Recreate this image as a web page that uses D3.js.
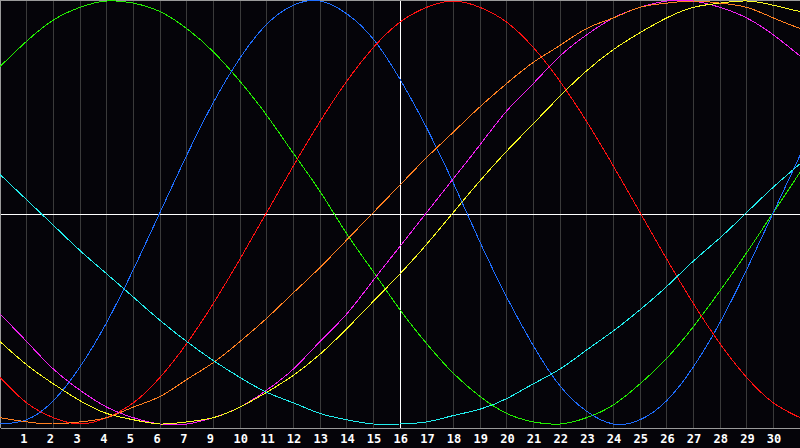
<!DOCTYPE html>
<html>
<head>
<meta charset="utf-8">
<script src="https://cdn.jsdelivr.net/npm/d3@7"></script>
<style>
  html, body { margin: 0; padding: 0; background: #050409; overflow: hidden; }
  svg { display: block; }
</style>
</head>
<body>
<svg id="chart" width="800" height="448"></svg>
<script>
// Day index along the x axis (0 = left edge, 30 = right edge)
const days = [0,1,2,3,4,5,6,7,8,9,10,11,12,13,14,15,16,17,18,19,20,21,22,23,24,25,26,27,28,29,30];

// Tick labels under grid lines 1..29 (the original skips "8")
const tickLabels = ["1","2","3","4","5","6","7","9","10","11","12","13","14","15","16","17","18","19","20","21","22","23","24","25","26","27","28","29","30"];

// Series values (percent), one per day
const physical     = [-100,-98,-89,-73,-52,-27,0,27,52,73,89,98,100,94,82,63,40,14,-14,-40,-63,-82,-94,-100,-98,-89,-73,-52,-27,0,27];
const emotional    = [-78,-90,-97,-100,-97,-90,-78,-62,-43,-22,0,22,43,62,78,90,97,100,97,90,78,62,43,22,0,-22,-43,-62,-78,-90,-97];
const intellectual = [69,81,91,97,100,99,95,87,76,62,46,28,10,-10,-28,-46,-62,-76,-87,-95,-99,-100,-97,-91,-81,-69,-54,-37,-19,0,19];
const intuitive    = [-48,-61,-74,-84,-92,-97,-100,-100,-97,-92,-84,-74,-61,-48,-32,-16,0,16,32,48,61,74,84,92,97,100,100,97,92,84,74];
const aesthetic    = [-61,-72,-81,-89,-95,-98,-100,-99,-97,-92,-85,-77,-67,-55,-42,-29,-15,0,15,29,42,55,67,77,85,92,97,99,100,98,95];
const awareness    = [-97,-99,-100,-99,-97,-92,-87,-79,-71,-61,-50,-38,-26,-13,0,13,26,38,50,61,71,79,87,92,97,99,100,99,97,92,87];
const spiritual    = [18,6,-6,-18,-29,-40,-51,-61,-70,-78,-85,-90,-95,-98,-100,-100,-99,-96,-93,-88,-81,-74,-65,-56,-46,-35,-23,-12,0,12,23];

const seriesNames  = ["intellectual","physical","emotional","intuitive","aesthetic","awareness","spiritual"];
const seriesValues = [intellectual, physical, emotional, intuitive, aesthetic, awareness, spiritual];
const seriesColors = ["#22ee00","#1e6eff","#ff1010","#f020f0","#f8f820","#ff8020","#22eeee"];

const W = 800, H = 448, plotBottom = 428;
const svg = d3.select("#chart");

svg.append("rect").attr("x",0).attr("y",0).attr("width",W).attr("height",H).attr("fill","#050409");

const x = d3.scaleLinear().domain([0, 30]).range([0, W]);
const y = d3.scaleLinear().domain([-100, 100]).range([424, 1]);

const crisp = v => Math.floor(v) + 0.5;

// vertical grid lines
const gridDays = days.filter(d => d > 0 && d < 30);
svg.append("g").selectAll("line").data(gridDays).join("line")
  .attr("x1", d => crisp(x(d))).attr("x2", d => crisp(x(d)))
  .attr("y1", 0).attr("y2", plotBottom)
  .attr("stroke", d => d === 15 ? "#ffffff" : "#3a3a3a")
  .attr("stroke-width", 1)
  .attr("shape-rendering", "crispEdges");

// horizontal centre line
svg.append("line")
  .attr("x1", 0).attr("x2", W)
  .attr("y1", Math.round(y(0)) + 1.5).attr("y2", Math.round(y(0)) + 1.5)
  .attr("stroke", "#ffffff").attr("stroke-width", 1)
  .attr("shape-rendering", "crispEdges");

// re-draw centre vertical on top of horizontal
svg.append("line")
  .attr("x1", crisp(x(15))).attr("x2", crisp(x(15)))
  .attr("y1", 0).attr("y2", plotBottom)
  .attr("stroke", "#ffffff").attr("stroke-width", 1)
  .attr("shape-rendering", "crispEdges");

// top and left border
svg.append("path")
  .attr("d", `M0.5,${plotBottom}V0.5H${W}`)
  .attr("fill", "none").attr("stroke", "#9a9a9a").attr("stroke-width", 1)
  .attr("shape-rendering", "crispEdges");

// curves
const line = d3.line()
  .x((v, i) => x(days[i]))
  .y(v => y(v))
  .curve(d3.curveNatural);

svg.append("g").selectAll("path").data(seriesValues).join("path")
  .attr("d", vals => line(vals))
  .attr("fill", "none")
  .attr("stroke", (v, i) => seriesColors[i])
  .attr("stroke-width", 1)
  .attr("shape-rendering", "crispEdges");

// bottom axis with labels
const axis = d3.axisBottom(x)
  .tickValues(gridDays)
  .tickFormat(d => tickLabels[d - 1])
  .tickSize(0)
  .tickSizeOuter(0);

const gAxis = svg.append("g")
  .attr("transform", `translate(0,${plotBottom})`)
  .call(axis);

gAxis.select(".domain")
  .attr("stroke", "#9a9a9a")
  .attr("shape-rendering", "crispEdges");

gAxis.selectAll(".tick text")
  .attr("text-anchor", "start")
  .attr("x", -7)
  .attr("y", 15)
  .attr("dy", 0)
  .attr("fill", "#ffffff")
  .style("font-family", "'DejaVu Sans Mono', monospace")
  .style("font-weight", "bold")
  .style("font-size", "12px");
</script>
</body>
</html>
